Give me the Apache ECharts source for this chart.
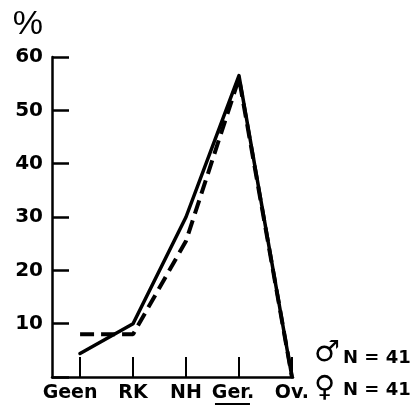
<!DOCTYPE html>
<html>
<head>
<meta charset="utf-8">
<script src="https://cdn.jsdelivr.net/npm/echarts@6/dist/echarts.min.js"></script>
<style>
  html, body { margin: 0; padding: 0; background: #fff; }
  #chart { width: 415px; height: 412px; }
</style>
</head>
<body>
<div id="chart"></div>
<script>
// categories along the x axis
const categories = ['Geen', 'RK', 'NH', 'Ger.', 'Ov.'];
// percentages
const maleValues = [4.4, 10, 30, 56.5, 0];      // solid line
const femaleValues = [8, 8, 25.5, 56, 0];       // dashed line
const yTicks = [0, 10, 20, 30, 40, 50, 60];
const legendLabels = ['♂', '♀'];
const legendCount = 'N = 41';

const font = 'DejaVu Sans, sans-serif';
const chart = echarts.init(document.getElementById('chart'));

const catIdx = categories.map((c, i) => i);
// a few labels sit a little left of their tick in the original
const labelNudge = { 0: 'l', 3: 'g' };

const option = {
  animation: false,
  backgroundColor: '#fff',
  grid: { left: 52, right: 122, top: 57, bottom: 35, outerBoundsMode: 'none' },
  xAxis: {
    type: 'value',
    min: -0.53,
    max: 4.02,
    splitLine: { show: false },
    axisLine: { onZero: false, lineStyle: { color: '#000', width: 2.5 } },
    axisTick: {
      show: true,
      inside: true,
      length: 20,
      customValues: catIdx,
      lineStyle: { color: '#000', width: 2 }
    },
    axisLabel: {
      customValues: catIdx,
      formatter: v => labelNudge[v] ? '{' + labelNudge[v] + '|' + categories[v] + '}' : categories[v],
      color: '#000',
      fontFamily: font,
      fontWeight: 'bold',
      fontSize: 19,
      margin: 7,
      rich: {
        l: { fontFamily: font, fontWeight: 'bold', fontSize: 19, color: '#000', padding: [0, 20, 0, 0] },
        g: { fontFamily: font, fontWeight: 'bold', fontSize: 19, color: '#000', padding: [0, 12, 0, 0] }
      }
    }
  },
  yAxis: {
    type: 'value',
    min: yTicks[0],
    max: yTicks[yTicks.length - 1],
    interval: 10,
    name: '%',
    nameLocation: 'end',
    nameGap: 15,
    nameTextStyle: {
      color: '#000',
      fontFamily: 'Liberation Sans, sans-serif',
      fontSize: 34,
      align: 'right',
      padding: [0, 9, 0, 0]
    },
    splitLine: { show: false },
    axisLine: { show: true, onZero: false, lineStyle: { color: '#000', width: 2.5 } },
    axisTick: { show: true, inside: true, length: 17, lineStyle: { color: '#000', width: 2.5 } },
    axisLabel: {
      formatter: v => (v === 0 ? '' : v),
      color: '#000',
      fontFamily: font,
      fontWeight: 'bold',
      fontSize: 20,
      margin: 9
    }
  },
  series: [
    {
      name: '♂ N = 41',
      type: 'line',
      data: categories.map((c, i) => [i, maleValues[i]]),
      showSymbol: false,
      lineStyle: { color: '#000', width: 3.5, cap: 'round', join: 'round' }
    },
    {
      name: '♀ N = 41',
      type: 'line',
      data: categories.map((c, i) => [i, femaleValues[i]]),
      showSymbol: false,
      lineStyle: { color: '#000', width: 4, type: [14, 7] }
    }
  ]
};
chart.setOption(option);

// underline under "Ger." and the N labels on the right
const gx = chart.convertToPixel({ xAxisIndex: 0 }, 3);
chart.setOption({
  graphic: [
    {
      type: 'line',
      shape: { x1: gx - 24, y1: 404, x2: gx + 11, y2: 404 },
      style: { stroke: '#000', lineWidth: 2 }
    },
    {
      type: 'text', left: 314, top: 339,
      style: { text: legendLabels[0], font: '29px DejaVu Sans', fill: '#000' }
    },
    {
      type: 'text', left: 343, top: 349,
      style: { text: legendCount, font: 'bold 18px ' + font, fill: '#000' }
    },
    {
      type: 'text', left: 314, top: 374,
      style: { text: legendLabels[1], font: '29px DejaVu Sans', fill: '#000' }
    },
    {
      type: 'text', left: 343, top: 381,
      style: { text: legendCount, font: 'bold 18px ' + font, fill: '#000' }
    }
  ]
});
</script>
</body>
</html>
